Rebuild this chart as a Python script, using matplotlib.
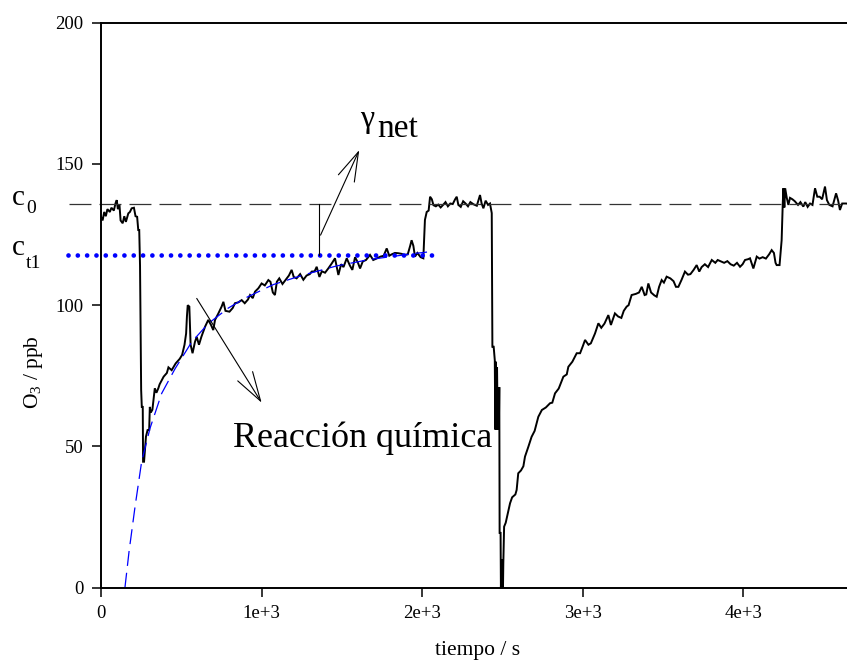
import matplotlib
matplotlib.use("Agg")
import matplotlib.pyplot as plt

plt.rcParams["font.family"] = ["Liberation Serif", "DejaVu Serif"]
plt.rcParams["mathtext.fontset"] = "custom"
plt.rcParams["mathtext.rm"] = "Liberation Serif"
plt.rcParams["mathtext.it"] = "Liberation Serif:italic"
plt.rcParams["lines.scale_dashes"] = False

# measured ozone trace (s, ppb)
t_obs = [0, 10, 20, 30, 40, 55, 65, 80, 90, 98, 105, 115, 122, 135, 145, 155, 170, 180,
         191, 205, 215, 225, 232, 238, 243, 246, 250, 254, 260, 262, 268, 272, 280, 290,
         300, 304, 310, 320, 335, 345, 357, 365, 390, 410, 420, 440, 465, 490, 505, 520,
         530, 535, 540, 550, 558, 570, 585, 596, 610, 625, 648, 668, 685, 699, 710, 730,
         751, 762, 775, 800, 820, 834, 855, 876, 895, 915, 928, 945, 959, 980, 1000, 1020,
         1042, 1055, 1070, 1083, 1095, 1110, 1130, 1150, 1170, 1187, 1200, 1218, 1240,
         1260, 1280, 1300, 1312, 1330, 1343, 1360, 1375, 1395, 1415, 1437, 1457, 1470,
         1478, 1495, 1510, 1530, 1550, 1565, 1582, 1600, 1613, 1630, 1650, 1675, 1695,
         1715, 1740, 1760, 1779, 1795, 1810, 1830, 1851, 1870, 1890, 1910, 1925, 1934,
         1945, 1955, 1970, 1990, 2007, 2017, 2028, 2040, 2049, 2060, 2070, 2085, 2100,
         2115, 2130, 2145, 2160, 2175, 2190, 2205, 2215, 2225, 2240, 2255, 2270, 2285,
         2300, 2320, 2340, 2360, 2370, 2381, 2395, 2410, 2422, 2433, 2437, 2445, 2452,
         2455, 2458, 2462, 2466, 2470, 2474, 2478, 2480, 2482, 2488, 2490, 2495, 2498,
         2503, 2505, 2510, 2520, 2530, 2547, 2560, 2580, 2588, 2598, 2615, 2630, 2640,
         2661, 2681, 2700, 2723, 2745, 2770, 2796, 2810, 2827, 2850, 2879, 2900, 2910,
         2935, 2962, 2983, 3000, 3014, 3035, 3050, 3065, 3076, 3097, 3115, 3135, 3159,
         3175, 3200, 3220, 3240, 3255, 3273, 3285, 3304, 3330, 3350, 3367, 3385, 3395,
         3408, 3425, 3445, 3460, 3475, 3491, 3505, 3522, 3545, 3565, 3580, 3595, 3615,
         3636, 3655, 3670, 3690, 3709, 3725, 3740, 3760, 3780, 3803, 3825, 3840, 3860,
         3880, 3900, 3920, 3940, 3960, 3979, 3995, 4010, 4030, 4041, 4062, 4083, 4100,
         4120, 4140, 4160, 4176, 4190, 4200, 4207, 4225, 4238, 4245, 4249, 4255, 4260,
         4270, 4280, 4290, 4305, 4320, 4340, 4355, 4373, 4385, 4400, 4415, 4430, 4446,
         4460, 4475, 4490, 4508, 4520, 4535, 4555, 4577, 4590, 4601, 4615, 4640, 4660]
o3_obs = [131.3, 130, 133, 131.5, 134, 133, 134.5, 133.5, 136, 137.2, 134, 135.5, 130, 129,
          131.5, 129.5, 132.5, 133, 134.3, 134.5, 131.5, 131.3, 126.6, 126.6, 114, 95, 70,
          64, 64, 44.6, 44.6, 47.6, 53.5, 55.8, 55.8, 64, 62, 63, 70.6, 69, 70.6, 72, 74.7,
          76, 78, 77, 79.4, 81, 82.4, 86, 90, 96, 100, 99.5, 86, 83, 87, 88.8, 86, 88.8,
          92.4, 94.8, 93, 91.2, 94.8, 97, 99.5, 101.2, 98, 97.7, 99, 100.7, 101, 101.8,
          100.7, 102, 103.6, 102.5, 104.8, 106, 107.7, 107, 108.9, 108.3, 104.5, 103.6,
          108.3, 109.5, 107.5, 109, 110.5, 112.5, 110, 109.5, 111, 109, 110.5, 111, 111.9,
          112, 113.6, 110, 112, 111.5, 113, 114.8, 116.6, 113, 110.7, 114.5, 113.5, 116.6,
          114, 112.5, 117, 115, 113, 115.5, 116, 117.8, 116, 116.5, 117.2, 117.5, 120.1,
          117.5, 118, 118.5, 118.4, 118.2, 117.8, 118, 121, 123, 121, 117.2, 118.5, 117,
          116.6, 130.2, 133, 133.5, 138.4, 137.5, 135.4, 135, 135.6, 134.6, 135.5, 136.5,
          135, 136, 135.8, 137.5, 138.4, 135.5, 134.8, 136.8, 136, 135, 136.5, 135.7, 135.2,
          139, 136, 134.3, 137, 135.5, 136, 132.6, 85.3, 85.3, 80.5, 56, 80, 56, 78, 56, 71,
          60, 71, 19.4, 19.4, 0, 10, 0, 0, 8.6, 21.6, 23, 25.5, 29.9, 32, 33, 34.6, 40.5,
          41.5, 43, 46.4, 49.9, 53.4, 55.5, 60.5, 62.9, 63.8, 65.3, 65.5, 68.8, 70.5, 74.7,
          75.5, 78.2, 80, 83, 83, 85.5, 87.7, 86, 86.5, 88.5, 90, 93.6, 92, 93.5, 96.5, 93,
          97.1, 96, 95.5, 98, 99.5, 100, 103.6, 104, 104.5, 106.5, 103.6, 103.8, 107.7,
          104.5, 103.5, 103, 106.5, 108.9, 108, 110.1, 109.5, 108.5, 106.5, 106.5, 109,
          111.9, 110.8, 111, 112.5, 114.2, 111.9, 113.5, 114.5, 113.5, 116, 115, 116, 115.5,
          115, 115.6, 114.5, 114, 115, 113.6, 114.5, 116, 116.3, 116.6, 113, 117.2, 116.5,
          117, 116.5, 118, 119.5, 118.5, 115, 114.2, 114.2, 123, 136, 141.4, 134.6, 141.4,
          138, 135.5, 138, 137.5, 136.8, 135.5, 136.5, 134.9, 136.5, 134.8, 136, 135.5,
          141.4, 138.4, 138.4, 137.5, 142, 137.2, 135.5, 135, 139.6, 137, 133.7, 136, 136,
          135.8]

# fitted recovery curve after the first step
t_fit = [149, 175, 212, 253, 305, 378, 461, 565, 668, 793, 897, 1073, 1260, 1467, 1675,
         1966, 2030]
o3_fit = [0, 13, 28.7, 44.6, 56.4, 68.8, 77.5, 87, 93.5, 99, 102.5, 107.3, 110.7, 113.9,
          116.2, 118.4, 118.8]

c0 = 135.8
ct1 = 117.8
c0_span = [-200, 4660]
ct1_span = [-205, 2090]
gap_t = 1359

xticks = [0, 1000, 2000, 3000, 4000]
xtick_labels = ["0", "1e+3", "2e+3", "3e+3", "4e+3"]
yticks = [0, 50, 100, 150, 200]

W, H = 847, 665
fig = plt.figure(figsize=(W / 100, H / 100), dpi=100)
ax = fig.add_axes([101 / W, 1 - 587.7 / H, (W - 101) / W, (587.7 - 22.7) / H])

ax.plot(t_obs, o3_obs, color="black", lw=1.4, solid_joinstyle="miter")
ax.plot(t_fit, o3_fit, color="#0000ff", lw=0.9, dashes=(10.8, 5))
ax.plot(c0_span, [c0, c0], color="0.2", lw=0.9, dashes=(15.8, 5.8), clip_on=False)
ax.plot(ct1_span, [ct1, ct1], color="#0000ff", lw=3.4, dashes=(0.01, 6.7),
        dash_capstyle="round", clip_on=False)
ax.plot([gap_t, gap_t], [c0, ct1], color="black", lw=0.8)

head = "->,head_length=1.4,head_width=0.42"
ax.annotate("", xy=(1608, 154.9), xytext=(1367, 124.8),
            arrowprops=dict(arrowstyle=head, lw=0.8, color="black", shrinkA=0,
                            shrinkB=0, mutation_scale=15))
ax.annotate("", xy=(1000, 65.5), xytext=(596, 102.4),
            arrowprops=dict(arrowstyle=head, lw=0.8, color="black", shrinkA=0,
                            shrinkB=0, mutation_scale=15))

ax.text(1615, 163.1, "γ", fontsize=23, va="baseline", ha="left")
ax.text(1722, 159.6, "net", fontsize=24, va="baseline", ha="left")
ax.text(822, 49.9, "Reacción química", fontsize=26, va="baseline", ha="left")

fig.text(11.7 / W, 1 - 205 / H, "c", fontsize=21, va="baseline")
fig.text(26 / W, 1 - 213.3 / H, "0", fontsize=14, va="baseline")
fig.text(11.7 / W, 1 - 255 / H, "c", fontsize=21, va="baseline")
fig.text(26 / W, 1 - 268.3 / H, "t1", fontsize=14, va="baseline")

fig.text(33 / W, 1 - 372 / H, "O$_3$ / ppb", fontsize=15.5, rotation=90,
         ha="center", va="center")
fig.text(478 / W, 1 - 650 / H, "tiempo / s", fontsize=15.5, ha="center", va="center")

ax.set_xlim(0, 4645)
ax.set_ylim(0, 200)
ax.set_xticks(xticks)
ax.set_xticklabels(xtick_labels)
ax.set_yticks(yticks)
ax.tick_params(direction="out", length=6.2, width=1.1, labelsize=13.5, pad=6.5)
ax.spines["right"].set_visible(False)
for s in ["left", "bottom", "top"]:
    ax.spines[s].set_linewidth(1.4)

fig.savefig("out.png", dpi=100)
